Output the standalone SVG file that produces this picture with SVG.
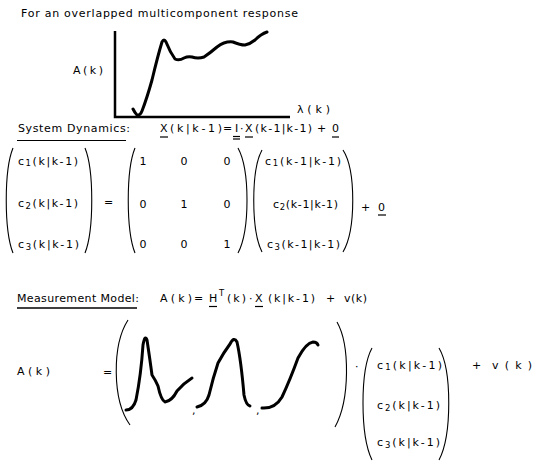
<svg xmlns="http://www.w3.org/2000/svg" width="536" height="463" viewBox="0 0 536 463">
<style>
text{font-family:"DejaVu Sans","Liberation Sans",sans-serif;font-size:11px;fill:#000}
.sub{font-size:8.5px}
.par{fill:none;stroke:#000;stroke-width:1.1}
.ul{stroke:#000;stroke-width:1.2}
.crv{fill:none;stroke:#000;stroke-width:3;stroke-linecap:round;stroke-linejoin:round}
.ax{fill:none;stroke:#000;stroke-width:2.5}
</style>
<rect width="536" height="463" fill="#fff"/>
<g id="title">
<text x="21" y="17" textLength="277" lengthAdjust="spacing">For an overlapped multicomponent response</text>
</g>
<g id="graph">
<path class="ax" d="M115,31 V117 H290"/>
<path class="crv" stroke-width="2.6" d="M133,109 Q135,113 137,115 Q140,116 142,111 Q147,98 152,80 Q158,55 162,42 Q164,38 166,42 Q170,52 175,59 Q179,61 184,58 Q188,56 192,57 Q198,59 204,57 Q210,53 217,47 Q225,41 233,42 Q240,45 245,45 Q250,44 255,40 Q261,34 267,32"/>
<text x="73" y="74" textLength="30" lengthAdjust="spacing">A(k)</text>
<text x="297" y="113" textLength="33" lengthAdjust="spacing">λ(k)</text>
</g>
<g id="system-dynamics">
<text x="18" y="132" textLength="112" lengthAdjust="spacing">System Dynamics:</text>
<line class="ul" x1="17" y1="140.5" x2="126" y2="140.5"/>
<text x="160" y="132">X</text>
<line class="ul" x1="160" y1="137" x2="168" y2="137"/>
<text x="170" y="132" textLength="52" lengthAdjust="spacing">(k|k-1)</text>
<text x="223" y="132">=</text>
<text x="235" y="132">I</text>
<line class="ul" x1="233" y1="136.5" x2="240" y2="136.5"/>
<line class="ul" x1="233" y1="139" x2="240" y2="139"/>
<text x="240" y="132">·</text>
<text x="245" y="132">X</text>
<line class="ul" x1="245" y1="137" x2="253" y2="137"/>
<text x="255" y="132" textLength="57" lengthAdjust="spacing">(k-1|k-1)</text>
<text x="317" y="132">+</text>
<text x="332" y="132">0</text>
<line class="ul" x1="332" y1="137" x2="339" y2="137"/>
<path class="par" d="M13,148 C4,170 4,230 13,253"/>
<path class="par" d="M85,148 C94,170 94,230 85,253"/>
<text x="18" y="165" textLength="60" lengthAdjust="spacing">c<tspan class="sub" dy="1">1</tspan><tspan dy="-1">(k|k-1)</tspan></text>
<text x="18" y="207" textLength="60" lengthAdjust="spacing">c<tspan class="sub" dy="2">2</tspan><tspan dy="-2">(k|k-1)</tspan></text>
<text x="18" y="248" textLength="61" lengthAdjust="spacing">c<tspan class="sub" dy="2">3</tspan><tspan dy="-2">(k|k-1)</tspan></text>
<text x="104" y="206">=</text>
<path class="par" d="M135,148 C126,170 126,230 135,253"/>
<path class="par" d="M238,148 C250,170 250,230 238,253"/>
<g text-anchor="middle">
<text x="143" y="165">1</text><text x="184" y="165">0</text><text x="227" y="165">0</text>
<text x="143" y="208">0</text><text x="184" y="208">1</text><text x="227" y="208">0</text>
<text x="143" y="248">0</text><text x="184" y="248">0</text><text x="227" y="248">1</text>
</g>
<path class="par" d="M262,150 C251,170 251,230 262,252"/>
<path class="par" d="M343,150 C356,170 356,230 343,252"/>
<text x="265" y="165" textLength="76" lengthAdjust="spacing">c<tspan class="sub" dy="1">1</tspan><tspan dy="-1">(k-1|k-1)</tspan></text>
<text x="273" y="208" textLength="65" lengthAdjust="spacing">c<tspan class="sub" dy="2">2</tspan><tspan dy="-2">(k-1|k-1)</tspan></text>
<text x="267" y="248" textLength="73" lengthAdjust="spacing">c<tspan class="sub" dy="2">3</tspan><tspan dy="-2">(k-1|k-1)</tspan></text>
<text x="361" y="211">+</text>
<text x="378" y="211">0</text>
<line class="ul" x1="378" y1="215" x2="386" y2="215"/>
</g>
<g id="measurement-model">
<text x="17" y="302" textLength="122" lengthAdjust="spacing">Measurement Model:</text>
<line x1="17" y1="308" x2="137" y2="308" stroke="#000" stroke-width="1.6"/>
<text x="160" y="302" textLength="32" lengthAdjust="spacing">A(k)</text>
<text x="194" y="302">=</text>
<text x="209" y="302">H</text>
<line class="ul" x1="209" y1="306.5" x2="217" y2="306.5"/>
<text x="219" y="296" class="sub">T</text>
<text x="227" y="302" textLength="19" lengthAdjust="spacing">(k)</text>
<text x="249" y="302">·</text>
<text x="255" y="302">X</text>
<line class="ul" x1="255" y1="306.5" x2="263" y2="306.5"/>
<text x="268" y="302" textLength="47" lengthAdjust="spacing">(k|k-1)</text>
<text x="326" y="302">+</text>
<text x="344" y="302" textLength="23" lengthAdjust="spacing">v(k)</text>
<text x="17" y="375" textLength="33" lengthAdjust="spacing">A(k)</text>
<text x="103" y="376">=</text>
<path class="par" d="M128,320 C112,345 112,400 130,425"/>
<path class="par" d="M337,322 C350,345 350,400 335,427"/>
<path class="crv" d="M126,410 Q133,410 136,400 Q141,375 143,345 Q145,334 147,340 Q150,360 152,375 Q156,381 158,386 Q161,400 165,402 Q172,401 177,391 Q184,383 192,378"/>
<text x="192" y="414">,</text>
<path class="crv" d="M197,407 Q206,405 209,395 Q213,378 218,363 Q224,352 230,344 Q234,336 237,342 Q241,360 244,395 Q246,405 250,406"/>
<text x="256" y="414">,</text>
<path class="crv" d="M262,408 Q275,409 282,397 Q290,380 298,358 Q306,343 313,342 Q317,342 318,345"/>
<text x="355" y="370">·</text>
<path class="par" d="M372,348 C360,370 360,435 372,460"/>
<path class="par" d="M439,348 C452,370 452,435 439,460"/>
<text x="377" y="369" textLength="65" lengthAdjust="spacing">c<tspan class="sub" dy="1">1</tspan><tspan dy="-1">(k|k-1)</tspan></text>
<text x="377" y="409" textLength="63" lengthAdjust="spacing">c<tspan class="sub" dy="2">2</tspan><tspan dy="-2">(k|k-1)</tspan></text>
<text x="377" y="446" textLength="63" lengthAdjust="spacing">c<tspan class="sub" dy="2">3</tspan><tspan dy="-2">(k|k-1)</tspan></text>
<text x="472" y="369">+</text>
<text x="492" y="369" textLength="40" lengthAdjust="spacing">v(k)</text>
</g>
</svg>
